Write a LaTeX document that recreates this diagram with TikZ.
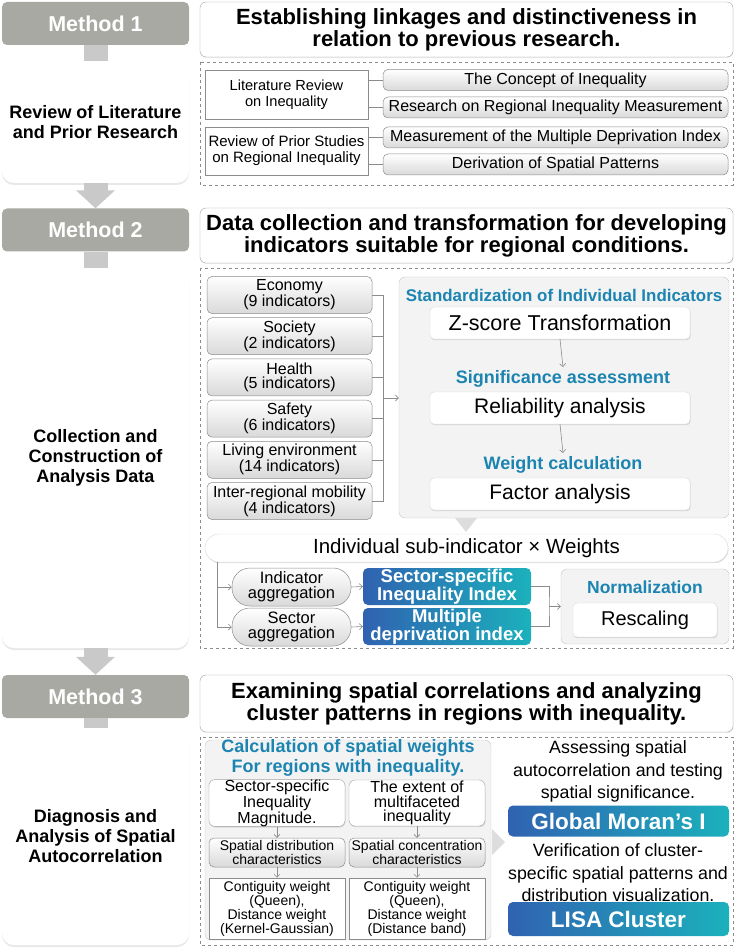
\documentclass[tikz,border=0pt]{standalone}
\usepackage{fontspec}
\setmainfont{Liberation Sans}
\usetikzlibrary{positioning, calc, shadows, arrows.meta}
\definecolor{fwMethod}{HTML}{A8A9A3}
\definecolor{fwStem}{HTML}{C9C9C9}
\definecolor{fwLine}{HTML}{8C8C8C}
\definecolor{fwFrame}{HTML}{A3A3A3}
\definecolor{fwPanel}{HTML}{F3F3F3}
\definecolor{fwTeal}{HTML}{1C84B1}
\definecolor{fwBlueL}{HTML}{3062B1}
\definecolor{fwBlueR}{HTML}{1BB1BC}
\definecolor{fwPillB}{HTML}{D9D9D9}
\definecolor{fwTri}{HTML}{DDDDDD}

\tikzset{
  methodbox/.style={fill=fwMethod, rounded corners=5pt, minimum width=187pt,
    minimum height=43pt, text=white, font=\fontsize{21.5}{22}\selectfont\bfseries},
  stagebox/.style={fill=white, rounded corners=12pt, minimum width=187pt,
    align=center, font=\fontsize{18}{20}\selectfont\bfseries,
    drop shadow={opacity=0.18, shadow xshift=0pt, shadow yshift=-2pt}},
  headbox/.style={draw=fwFrame, fill=white, rounded corners=6pt, minimum width=533pt,
    align=center, font=\fontsize{22}{22}\selectfont\bfseries,
    drop shadow={opacity=0.15, shadow xshift=0.5pt, shadow yshift=-1pt}},
  framebox/.style={draw=fwLine, dashed, line width=0.6pt},
  plainbox/.style={draw=fwLine, line width=0.6pt, fill=white, align=center, inner sep=0pt},
  gradbox/.style={draw=fwLine, line width=0.5pt, rounded corners=5pt, top color=white,
    bottom color=fwPillB, align=center, inner sep=0pt},
  indbox/.style={gradbox, minimum width=165pt, minimum height=37pt,
    font=\fontsize{16}{14.5}\selectfont},
  whitebox/.style={draw=black!15, fill=white, rounded corners=4pt, inner sep=0pt,
    align=center, drop shadow={opacity=0.25, shadow xshift=0.6pt, shadow yshift=-1.2pt}},
  panel/.style={draw=black!22, fill=fwPanel, rounded corners=6pt},
  bluebox/.style={left color=fwBlueL, right color=fwBlueR, rounded corners=5pt,
    text=white, align=center, inner sep=0pt},
  tealtitle/.style={text=fwTeal, font=\fontsize{18}{18}\selectfont\bfseries, align=center},
  thinarrow/.style={draw=fwLine, line width=0.6pt, -{Straight Barb[length=3pt,width=6pt]}},
  thinline/.style={draw=fwLine, line width=0.6pt},
  bigstem/.style={draw=fwStem, line width=24pt},
  bigarrow/.style={draw=fwStem, line width=24pt, -{Triangle[width=38pt,length=18pt]}},
}

\begin{document}
\begin{tikzpicture}[x=1pt, y=-1pt]
\useasboundingbox (0,0) rectangle (735,949);

% left column: methods and stages
\node[methodbox] (m1) at (95.5,23.5) {Method 1};
\node[stagebox, minimum height=122pt] (s1) at (95.5,122) {Review of Literature\\and Prior Research};
\node[methodbox] (m2) at (95.5,230) {Method 2};
\node[stagebox, minimum height=380pt] (s2) at (95.5,458) {Collection and\\Construction of\\Analysis Data};
\node[methodbox] (m3) at (95.5,696.5) {Method 3};
\node[stagebox, minimum height=217pt] (s3) at (95.5,836.5) {Diagnosis and\\Analysis of Spatial\\Autocorrelation};
\draw[bigstem] (m1.south) -- (s1.north);
\draw[bigarrow] (s1.south) -- (m2.north);
\draw[bigstem] (m2.south) -- (s2.north);
\draw[bigarrow] (s2.south) -- (m3.north);
\draw[bigstem] (m3.south) -- (s3.north);

% method 1
\node[headbox, minimum height=55pt] (h1) at (466.5,29.5)
  {Establishing linkages and distinctiveness in\\relation to previous research.};
\draw[framebox] (200,62) rectangle (733,185);
\node[plainbox, minimum width=163pt, minimum height=49pt, font=\fontsize{14.6}{16}\selectfont]
  (lit) at (286.5,94.5) {Literature Review\\on Inequality};
\node[plainbox, minimum width=163pt, minimum height=48pt, font=\fontsize{15}{16}\selectfont]
  (prior) at (286.5,151) {Review of Prior Studies\\on Regional Inequality};
\node[gradbox, minimum width=345pt, minimum height=21pt, font=\fontsize{16}{16}\selectfont]
  (c1) at (555.5,80) {The Concept of Inequality};
\node[gradbox, minimum width=345pt, minimum height=21pt, font=\fontsize{16}{16}\selectfont]
  (c2) at (555.5,107.5) {Research on Regional Inequality Measurement};
\node[gradbox, minimum width=345pt, minimum height=21pt, font=\fontsize{16}{16}\selectfont]
  (c3) at (555.5,137.5) {Measurement of the Multiple Deprivation Index};
\node[gradbox, minimum width=345pt, minimum height=21pt, font=\fontsize{16}{16}\selectfont]
  (c4) at (555.5,164.5) {Derivation of Spatial Patterns};
\draw[thinline] (c1.west) -- (c1.west -| lit.east);
\draw[thinline] (c2.west) -- (c2.west -| lit.east);
\draw[thinline] (c3.west) -- (c3.west -| prior.east);
\draw[thinline] (c4.west) -- (c4.west -| prior.east);

% method 2
\node[headbox, minimum height=55pt] (h2) at (466.5,235.5)
  {Data collection and transformation for developing\\indicators suitable for regional conditions.};
\draw[framebox] (200,268) rectangle (733,648);
\node[indbox] (eco) at (289.5,295) {Economy\\(9 indicators)};
\node[indbox] (soc) at (289.5,336.2) {Society\\(2 indicators)};
\node[indbox] (hea) at (289.5,377.4) {Health\\(5 indicators)};
\node[indbox] (saf) at (289.5,418.6) {Safety\\(6 indicators)};
\node[indbox] (liv) at (289.5,459.8) {Living environment\\(14 indicators)};
\node[indbox] (mob) at (289.5,501) {Inter-regional mobility\\(4 indicators)};
\coordinate (brk) at (383,398);
\draw[thinline] (eco.east) -- (eco.east -| brk) -- (mob.east -| brk) -- (mob.east);
\draw[thinline] (soc.east) -- (soc.east -| brk);
\draw[thinline] (hea.east) -- (hea.east -| brk);
\draw[thinline] (saf.east) -- (saf.east -| brk);
\draw[thinline] (liv.east) -- (liv.east -| brk);

\node[panel, minimum width=330pt, minimum height=241pt] (std) at (564,397.5) {};
\draw[thinarrow] (brk) -- (brk -| std.west);
\node[tealtitle, font=\fontsize{16.9}{17}\selectfont\bfseries] (stdt) at (564,295)
  {Standardization of Individual Indicators};
\node[whitebox, minimum width=260pt, minimum height=32pt, font=\fontsize{21.5}{22}\selectfont]
  (zs) at (560,323) {Z-score Transformation};
\node[tealtitle] (sig) at (563,379) {Significance assessment};
\node[whitebox, minimum width=260pt, minimum height=32pt, font=\fontsize{21}{22}\selectfont]
  (rel) at (560,408) {Reliability analysis};
\node[tealtitle] (wgt) at (563,465) {Weight calculation};
\node[whitebox, minimum width=260pt, minimum height=32pt, font=\fontsize{21}{22}\selectfont]
  (fac) at (560,494) {Factor analysis};
\draw[thinarrow] (zs.south) -- (sig.north);
\draw[thinarrow] (rel.south) -- (wgt.north);
\fill[fwTri] (455,518) -- (477,518) -- (466,532) -- cycle;

\node[whitebox, rounded corners=14pt, minimum width=523pt, minimum height=28pt,
  font=\fontsize{20.5}{21}\selectfont] (mul) at (466.5,548) {Individual sub-indicator × Weights};
\node[gradbox, rounded corners=18pt, minimum width=119pt, minimum height=38pt,
  font=\fontsize{16.5}{15}\selectfont] (ind) at (291.5,587) {Indicator\\aggregation};
\node[gradbox, rounded corners=18pt, minimum width=119pt, minimum height=38pt,
  font=\fontsize{16.5}{15}\selectfont] (sec) at (291.5,627) {Sector\\aggregation};
\node[bluebox, minimum width=168pt, minimum height=37pt, font=\fontsize{18.5}{15.5}\selectfont\bfseries]
  (sii) at (447,586.5) {Sector-specific\\Inequality Index};
\node[bluebox, minimum width=168pt, minimum height=37pt, font=\fontsize{18.5}{15.5}\selectfont\bfseries]
  (mdi) at (447,626.5) {Multiple\\deprivation index};
\node[panel, minimum width=168pt, minimum height=75pt] (norm) at (645,606.5) {};
\node[tealtitle, font=\fontsize{17.5}{18}\selectfont\bfseries] (normt) at (645,587) {Normalization};
\node[whitebox, minimum width=144pt, minimum height=34pt, font=\fontsize{20}{21}\selectfont]
  (res) at (645,620) {Rescaling};
\coordinate (split) at (217,562);
\draw[thinarrow] (split) |- (ind.west);
\draw[thinarrow] (split) |- (sec.west);
\draw[thinarrow] (ind.east) -- (sii.west);
\draw[thinarrow] (sec.east) -- (mdi.west);
\coordinate (join) at (549,606.5);
\draw[thinline] (sii.east) -| (join) |- (mdi.east);
\draw[thinarrow] (join) -- (norm.west);

% method 3
\node[headbox, minimum height=57pt] (h3) at (466.5,703.5)
  {Examining spatial correlations and analyzing\\cluster patterns in regions with inequality.};
\draw[framebox] (200,737) rectangle (733,945);
\node[panel, minimum width=286pt, minimum height=200pt] (swp) at (348,840) {};
\node[tealtitle, font=\fontsize{18}{20}\selectfont\bfseries] (swt) at (348,758)
  {Calculation of spatial weights\\For regions with inequality.};
\node[whitebox, draw=fwFrame, rounded corners=6pt, minimum width=136pt, minimum height=46pt,
  font=\fontsize{16}{14.5}\selectfont] (mag) at (277,803) {Sector-specific\\Inequality\\Magnitude.};
\node[whitebox, draw=fwFrame, rounded corners=6pt, minimum width=136pt, minimum height=46pt,
  font=\fontsize{16}{14.5}\selectfont] (ext) at (417,803) {The extent of\\multifaceted\\inequality};
\node[gradbox, minimum width=136pt, minimum height=29pt, font=\fontsize{14}{14}\selectfont]
  (dis) at (277,852.5) {Spatial distribution\\characteristics};
\node[gradbox, minimum width=136pt, minimum height=29pt, font=\fontsize{14}{14}\selectfont]
  (con) at (417,852.5) {Spatial concentration\\characteristics};
\node[plainbox, minimum width=136pt, minimum height=61pt, font=\fontsize{14}{12.8}\selectfont]
  (kg) at (277,908.5) {Contiguity weight\\(Queen),\\Distance weight\\(Kernel-Gaussian)};
\node[plainbox, minimum width=136pt, minimum height=61pt, font=\fontsize{14}{12.8}\selectfont]
  (db) at (417,908.5) {Contiguity weight\\(Queen),\\Distance weight\\(Distance band)};
\draw[thinarrow] (mag.south) -- (dis.north);
\draw[thinarrow] (dis.south) -- (kg.north);
\draw[thinarrow] (ext.south) -- (con.north);
\draw[thinarrow] (con.south) -- (db.north);
\fill[fwTri] (492,829) -- (505,842) -- (492,855) -- cycle;

\node[align=center, font=\fontsize{17.8}{22.5}\selectfont] (assess) at (618,771.5)
  {Assessing spatial\\autocorrelation and testing\\spatial significance.};
\node[bluebox, minimum width=221pt, minimum height=31pt, font=\fontsize{22.5}{23}\selectfont\bfseries]
  (moran) at (618.5,821) {Global Moran’s I};
\node[align=center, font=\fontsize{17.8}{22.5}\selectfont] (verify) at (618,873)
  {Verification of cluster-\\specific spatial patterns and\\distribution visualization.};
\node[bluebox, minimum width=221pt, minimum height=34pt, font=\fontsize{22.5}{23}\selectfont\bfseries]
  (lisa) at (618.5,919) {LISA Cluster};
\end{tikzpicture}
\end{document}
